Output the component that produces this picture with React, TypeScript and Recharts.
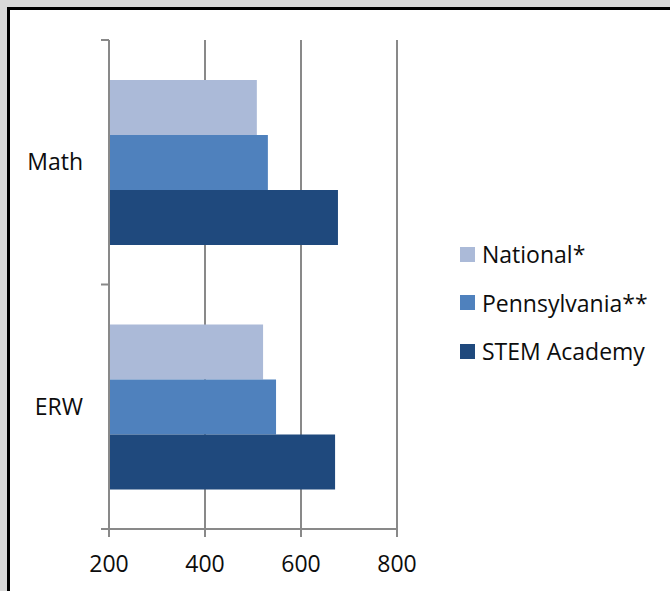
import { BarChart, Bar, XAxis, YAxis, CartesianGrid } from 'recharts';

const categories = ['Math', 'ERW'];
const national = [508, 521];
const pennsylvania = [531, 548];
const stemAcademy = [677, 671];
const xTicks = [200, 400, 600, 800];

const series = [
  { key: 'national', name: 'National*', color: '#abbad8' },
  { key: 'pennsylvania', name: 'Pennsylvania**', color: '#4f81bd' },
  { key: 'stem', name: 'STEM Academy', color: '#1f497d' },
];

const data = categories.map((cat, i) => ({
  cat,
  national: national[i],
  pennsylvania: pennsylvania[i],
  stem: stemAcademy[i],
}));

const FONT = '"Open Sans", sans-serif';
const GRID = '#898989';
const LABEL_GAP = 26;
const TICK_LEN = 8;

// category label plus Excel-style tick marks at the band edges
const CategoryTick = (props: any) => {
  const { x, y, payload, index, visibleTicksCount } = props;
  const half = payload?.offset ?? 0;
  const axisX = x + LABEL_GAP;
  const isLast = index === visibleTicksCount - 1;
  return (
    <g>
      <text x={x} y={y} dy="0.355em" textAnchor="end" fill="#0d0d0d" fontSize={23} fontFamily={FONT}>
        {payload.value}
      </text>
      {half > 0 && (
        <line x1={axisX - TICK_LEN} x2={axisX} y1={y - half} y2={y - half} stroke={GRID} strokeWidth={2} />
      )}
      {half > 0 && isLast && (
        <line x1={axisX - TICK_LEN} x2={axisX} y1={y + half} y2={y + half} stroke={GRID} strokeWidth={2} />
      )}
    </g>
  );
};

const LegendBox = () => (
  <div style={{ position: 'absolute', left: 460, top: 230, fontFamily: FONT, fontSize: 23, color: '#0d0d0d' }}>
    {series.map((s) => (
      <div key={s.key} style={{ display: 'flex', alignItems: 'center', height: 48.5 }}>
        <span style={{ width: 15, height: 15, background: s.color, marginRight: 7 }} />
        <span>{s.name}</span>
      </div>
    ))}
  </div>
);

export default function App() {
  return (
    <div style={{ position: 'relative', width: 670, height: 591, overflow: 'hidden', background: '#d9d9d9' }}>
      <style>{`body{margin:0;overflow:hidden;background:#d9d9d9}`}</style>
      <div
        style={{
          position: 'absolute',
          left: 7,
          top: 7,
          width: 720,
          height: 640,
          border: '3px solid #000',
          background: '#fff',
        }}
      />
      <div style={{ position: 'absolute', left: 0, top: 0 }}>
        <BarChart
          width={670}
          height={591}
          data={data}
          layout="vertical"
          margin={{ top: 40, right: 273, bottom: 0, left: 0 }}
          barGap={0}
          barCategoryGap={40}
        >
          <CartesianGrid horizontal={false} stroke={GRID} strokeWidth={2} />
          <XAxis
            type="number"
            domain={[200, 800]}
            ticks={xTicks}
            allowDataOverflow
            height={62}
            tickSize={8}
            tickMargin={19}
            axisLine={{ stroke: GRID, strokeWidth: 2 }}
            tickLine={{ stroke: GRID, strokeWidth: 2 }}
            tick={{ fill: '#0d0d0d', fontSize: 23, fontFamily: FONT }}
          />
          <YAxis
            type="category"
            dataKey="cat"
            width={109}
            axisLine={{ stroke: GRID, strokeWidth: 2 }}
            tickLine={false}
            tickSize={0}
            tickMargin={LABEL_GAP}
            tick={<CategoryTick />}
          />
          {series.map((s) => (
            <Bar key={s.key} dataKey={s.key} name={s.name} fill={s.color} isAnimationActive={false} />
          ))}
        </BarChart>
      </div>
      <LegendBox />
    </div>
  );
}
